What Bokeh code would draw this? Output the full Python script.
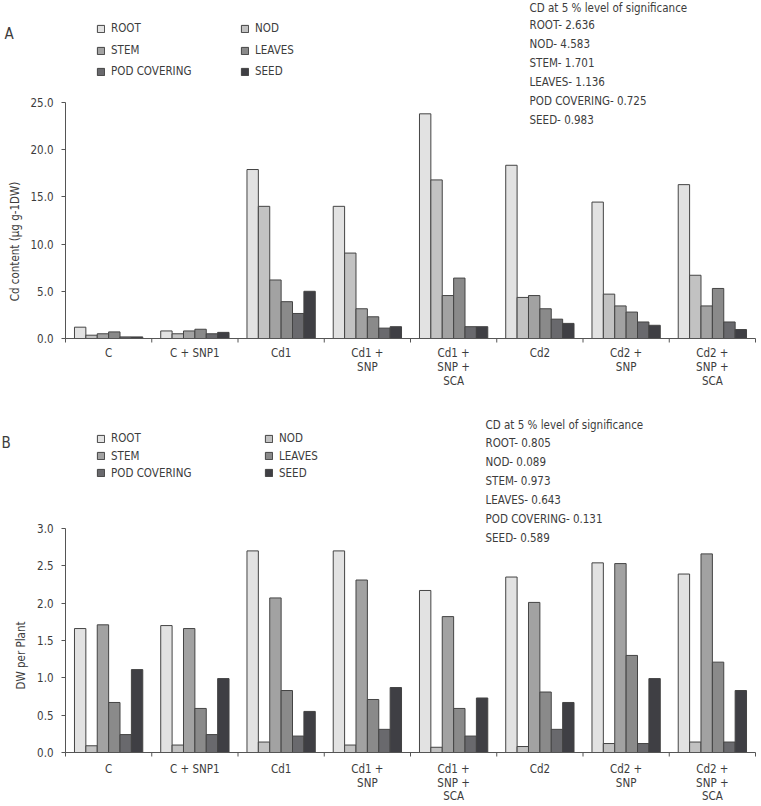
from bokeh.plotting import figure
from bokeh.layouts import column
from bokeh.models import (Range1d, FixedTicker, Label, Legend, LegendItem,
                          ColumnDataSource, NumeralTickFormatter, LinearAxis)
from bokeh.transform import dodge
from bokeh.embed import file_html
from bokeh.resources import INLINE

FONT = "Liberation Sans Narrow, DejaVu Sans Condensed, sans-serif"
FS = "11.5px"
TXT = "#3c3c3c"
AX = "#555555"

treatments = ["C", "C + SNP1", "Cd1", "Cd1 +\nSNP", "Cd1 +\nSNP +\nSCA",
              "Cd2", "Cd2 +\nSNP", "Cd2 +\nSNP +\nSCA"]
parts = ["ROOT", "NOD", "STEM", "LEAVES", "POD COVERING", "SEED"]
part_colors = ["#e2e2e2", "#c2c2c2", "#a2a2a2", "#8a8a8a", "#69696d", "#3f3f44"]

# Panel A: Cd content (ug g-1 DW)
cd_root = [1.2, 0.8, 17.9, 14.0, 23.8, 18.35, 14.45, 16.3]
cd_nod = [0.35, 0.5, 14.0, 9.05, 16.8, 4.35, 4.7, 6.7]
cd_stem = [0.5, 0.8, 6.2, 3.15, 4.55, 4.55, 3.45, 3.45]
cd_leaves = [0.7, 0.98, 3.9, 2.3, 6.4, 3.15, 2.8, 5.3]
cd_pod = [0.17, 0.5, 2.65, 1.1, 1.25, 2.05, 1.75, 1.75]
cd_seed = [0.17, 0.65, 5.0, 1.25, 1.25, 1.6, 1.4, 0.95]
cd_lsd = ["2.636", "4.583", "1.701", "1.136", "0.725", "0.983"]

# Panel B: dry weight per plant
dw_root = [1.66, 1.70, 2.70, 2.70, 2.17, 2.35, 2.54, 2.39]
dw_nod = [0.09, 0.10, 0.14, 0.10, 0.07, 0.08, 0.12, 0.14]
dw_stem = [1.71, 1.66, 2.07, 2.31, 1.82, 2.01, 2.53, 2.66]
dw_leaves = [0.67, 0.59, 0.83, 0.71, 0.59, 0.81, 1.30, 1.21]
dw_pod = [0.24, 0.24, 0.22, 0.31, 0.22, 0.31, 0.12, 0.14]
dw_seed = [1.11, 0.99, 0.55, 0.87, 0.73, 0.67, 0.99, 0.83]
dw_lsd = ["0.805", "0.089", "0.973", "0.643", "0.131", "0.589"]

cd_yticks = [0, 5, 10, 15, 20, 25]
dw_yticks = [0.0, 0.5, 1.0, 1.5, 2.0, 2.5, 3.0]

W, H = 761, 403
BAR_W = 0.132
TICK_LEN = 4


def make_panel(letter, series, yticks, ylabel, lsd, geo):
    # plot area (in canvas pixels) where the axes sit; the frame itself spans
    # the whole canvas so that texts around the axes are never clipped
    left, right, top, bottom = geo["area"]
    n = len(treatments)
    xppu = (right - left) / n
    y0, y1 = yticks[0], yticks[-1]
    yppu = (bottom - top) / (y1 - y0)
    x_range = Range1d(-left / xppu, n + (W - right) / xppu)
    y_range = Range1d(y0 - (H - bottom) / yppu, y1 + top / yppu)

    p = figure(width=W, height=H, output_backend="svg", toolbar_location=None,
               x_range=x_range, y_range=y_range, x_axis_type=None, y_axis_type=None,
               min_border=0)
    p.grid.visible = False
    p.outline_line_color = None
    p.background_fill_color = "white"
    p.border_fill_color = "white"

    def sy(cy):
        return H - cy

    data = {"xc": [i + 0.5 for i in range(n)]}
    for name, vals in zip(parts, series):
        data[name] = vals
    src = ColumnDataSource(data)

    renderers = []
    for j, (name, col) in enumerate(zip(parts, part_colors)):
        off = (j - (len(parts) - 1) / 2) * BAR_W
        r = p.vbar(x=dodge("xc", off), top=name, width=BAR_W, bottom=0, source=src,
                   fill_color=col, line_color="#444444", line_width=1)
        renderers.append(r)

    # x axis: plain baseline, with short ticks between the treatment groups
    xa = LinearAxis(fixed_location=y0, bounds=(0, n), ticker=FixedTicker(ticks=[]),
                    axis_line_color=AX, minor_tick_line_color=None)
    p.add_layout(xa, "below")
    bounds_x = list(range(n + 1))
    p.segment(x0=bounds_x, x1=bounds_x, y0=[y0] * (n + 1),
              y1=[y0 - TICK_LEN / yppu] * (n + 1), line_color=AX, line_width=1)

    ya = LinearAxis(fixed_location=0, bounds=(y0, y1),
                    ticker=FixedTicker(ticks=yticks),
                    formatter=NumeralTickFormatter(format="0.0"),
                    major_tick_in=0, major_tick_out=TICK_LEN, minor_tick_line_color=None,
                    axis_line_color=AX, major_tick_line_color=AX,
                    major_label_standoff=8, major_label_text_font=FONT,
                    major_label_text_font_size=FS, major_label_text_color=TXT)
    p.add_layout(ya, "left")

    # category labels under the axis, one line at a time
    first, step = geo["cat"]
    for i, t in enumerate(treatments):
        for k, line in enumerate(t.split("\n")):
            p.add_layout(Label(x=i + 0.5, y=sy(first + k * step), x_units="data",
                               y_units="screen", text=line, text_align="center",
                               text_baseline="middle", text_font=FONT,
                               text_font_size=FS, text_color=TXT))

    # y-axis title
    yx, yy = geo["ylabel"]
    p.add_layout(Label(x=yx, y=sy(yy), x_units="screen", y_units="screen",
                       text=ylabel, angle=90, angle_units="deg", text_align="center",
                       text_baseline="middle", text_font=FONT, text_font_size=FS,
                       text_color=TXT))

    # panel letter
    lx, ly = geo["letter"]
    p.add_layout(Label(x=lx, y=sy(ly), x_units="screen", y_units="screen",
                       text=letter, text_align="left", text_baseline="middle",
                       text_font=FONT, text_font_size="15px", text_color=TXT))

    # significance block
    cx0, cys = geo["cd"]
    cd_lines = ["CD at 5 % level of significance"] + [
        f"{nm}- {v}" for nm, v in zip(parts, lsd)]
    for line, cy in zip(cd_lines, cys):
        p.add_layout(Label(x=cx0, y=sy(cy), x_units="screen", y_units="screen",
                           text=line, text_align="left", text_baseline="middle",
                           text_font=FONT, text_font_size=FS, text_color=TXT))

    # legend: two columns, one single-item legend per entry
    col_x, row_y = geo["legend"]
    item_h = 14
    order = [(0, 0, 0), (1, 1, 0), (2, 0, 1), (3, 1, 1), (4, 0, 2), (5, 1, 2)]
    for j, c, rrow in order:
        cy = row_y[rrow]
        leg = Legend(items=[LegendItem(label=parts[j], renderers=[renderers[j]])],
                     location=(col_x[c], sy(cy + item_h / 2)),
                     padding=0, margin=0, spacing=0,
                     glyph_width=9, glyph_height=9, label_height=item_h,
                     label_standoff=6, border_line_alpha=0,
                     background_fill_alpha=0, label_text_font=FONT,
                     label_text_font_size=FS, label_text_color=TXT)
        p.add_layout(leg, "center")
    return p


geo_a = {
    "area": (65, 755, 102, 338),
    "cat": (352, 14),
    "ylabel": (14, 241),
    "letter": (4, 33),
    "cd": (529, [7, 24, 43, 62, 81, 100, 119]),
    "legend": ((96, 240), (28, 50, 71)),
}
geo_b = {
    "area": (65, 755, 125, 349),
    "cat": (365.5, 13.5),
    "ylabel": (20, 252),
    "letter": (1, 39),
    "cd": (485, [21, 39, 58, 77, 96, 115, 134]),
    "legend": ((96, 264), (35, 52.5, 69.5)),
}

pa = make_panel("A", [cd_root, cd_nod, cd_stem, cd_leaves, cd_pod, cd_seed],
                cd_yticks, "Cd content (\u03bcg g-1DW)", cd_lsd, geo_a)
pb = make_panel("B", [dw_root, dw_nod, dw_stem, dw_leaves, dw_pod, dw_seed],
                dw_yticks, "DW per Plant", dw_lsd, geo_b)

layout = column(pa, pb, spacing=0)
open("out.html", "w").write(file_html(layout, INLINE))
